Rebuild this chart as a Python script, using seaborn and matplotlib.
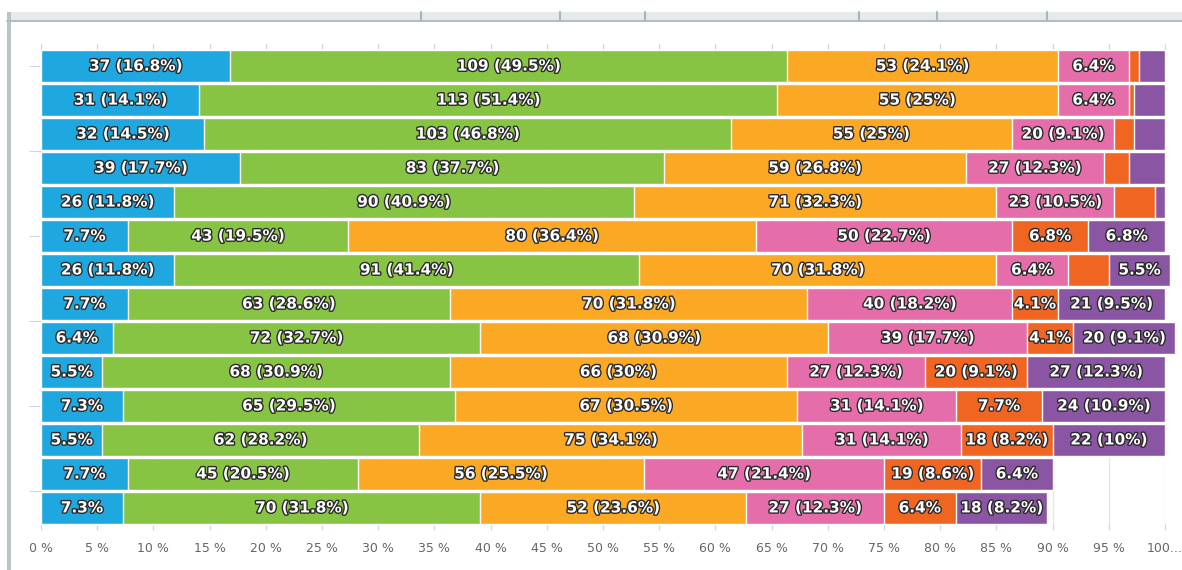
import pandas as pd
import matplotlib.pyplot as plt
import matplotlib.patheffects as pe
from matplotlib.patches import Rectangle
from matplotlib.lines import Line2D
import seaborn as sns

# responses per question, total respondents = 220
total = 220
questions = ['Q%d' % i for i in range(1, 15)]
seg_blue = [37, 31, 32, 39, 26, 17, 26, 17, 14, 12, 16, 12, 17, 16]
seg_green = [109, 113, 103, 83, 90, 43, 91, 63, 72, 68, 65, 62, 45, 70]
seg_orange = [53, 55, 55, 59, 71, 80, 70, 70, 68, 66, 67, 75, 56, 52]
seg_pink = [14, 14, 20, 27, 23, 50, 14, 40, 39, 27, 31, 31, 47, 27]
seg_red = [2, 1, 4, 5, 8, 15, 8, 9, 9, 20, 17, 18, 19, 14]
seg_purple = [5, 6, 6, 7, 2, 15, 12, 21, 20, 27, 24, 22, 14, 18]

segments = [seg_blue, seg_green, seg_orange, seg_pink, seg_red, seg_purple]
colors = ['#1fa8e0', '#87c443', '#fba824', '#e46daa', '#f16522', '#8a55a2']
xticks = list(range(0, 101, 5))
xtick_labels = ['%d %%' % v for v in xticks[:-1]] + ['100...']

df = pd.DataFrame({'question': questions})
cum = [0] * len(questions)
for i, seg in enumerate(segments):
    cum = [c + v / total * 100 for c, v in zip(cum, seg)]
    df['cum%d' % i] = cum

sns.set_style('white')
fig = plt.figure(figsize=(11.82, 5.70), dpi=100)
ax = fig.add_axes([41 / 1182, 40 / 570, 1124 / 1182, 486 / 570])

# cumulative bars, drawn from the longest to the shortest
for i in range(len(segments) - 1, -1, -1):
    sns.barplot(data=df, x='cum%d' % i, y='question', order=questions, color=colors[i],
                saturation=1, width=0.94, edgecolor='white', linewidth=1,
                errorbar=None, orient='h', ax=ax)
for p in ax.patches:
    p.set_clip_on(False)

# data labels
outline = [pe.withStroke(linewidth=2, foreground='#2a2a2a')]
for r in range(len(questions)):
    left = 0
    for seg in segments:
        n = seg[r]
        pct = n / total * 100
        txt = ('%.1f' % pct).rstrip('0').rstrip('.')
        if pct >= 8:
            label = '%d (%s%%)' % (n, txt)
        elif pct >= 4:
            label = '%s%%' % txt
        else:
            label = ''
        if label:
            ax.text(left + pct / 2, r, label, ha='center', va='center', color='white',
                    fontsize=11, fontweight='bold', path_effects=outline, zorder=5)
        left += pct

ax.set_xlim(0, 100)
ax.set_ylim(13.5 + 0.15, -0.5 - 0.15)
ax.set_xlabel('')
ax.set_ylabel('')
ax.set_xticks(xticks)
ax.set_xticklabels(xtick_labels, color='#666666', fontsize=9)
ax.set_yticks([0, 2.5, 5, 7.5, 10, 12.5])
ax.set_yticklabels([])
ax.tick_params(axis='x', top=True, bottom=True, direction='in', length=4,
               color='#ccd6eb', pad=9)
ax.tick_params(axis='y', left=True, direction='out', length=9, color='#ccd6eb', pad=0)
ax.xaxis.grid(True, color='#e6e6e6', linewidth=1)
ax.set_axisbelow(True)
for s in ax.spines.values():
    s.set_visible(False)

# frame bits of the surrounding page
W, H = 1182, 570
fig.patches.append(Rectangle((7 / W, (H - 20) / H), 1 - 7 / W, 8 / H, transform=fig.transFigure,
                             facecolor='#e6eaeb', edgecolor='none'))
fig.lines.append(Line2D([7 / W, 1], [(H - 20.5) / H] * 2, transform=fig.transFigure,
                        color='#b0bec3', linewidth=1.5))
for x in [421, 560, 645, 859, 937, 1047]:
    fig.lines.append(Line2D([x / W] * 2, [(H - 12) / H, (H - 20) / H], transform=fig.transFigure,
                            color='#aab5b9', linewidth=1.5))
fig.patches.append(Rectangle((7 / W, 0), 4 / W, (H - 12) / H, transform=fig.transFigure,
                             facecolor='#b8c3c6', edgecolor='none'))

plt.savefig('out.png', dpi=100)
